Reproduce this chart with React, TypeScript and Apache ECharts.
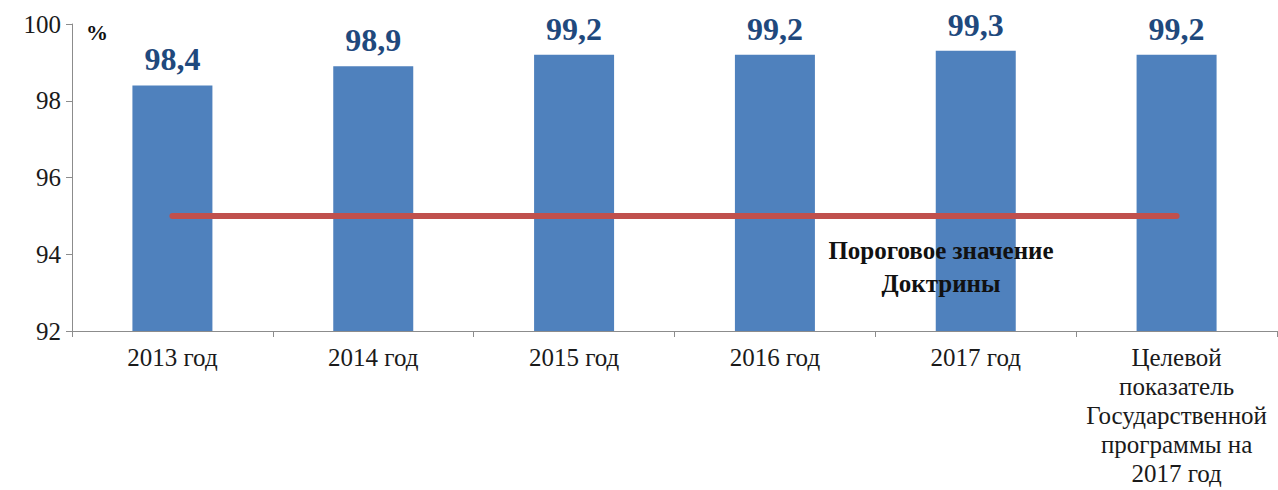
import React, { useEffect, useRef } from "react";
import * as echarts from "echarts";

const categories = [
  "2013 год",
  "2014 год",
  "2015 год",
  "2016 год",
  "2017 год",
  "Целевой\nпоказатель\nГосударственной\nпрограммы на\n2017 год",
];
const values = [98.4, 98.9, 99.2, 99.2, 99.3, 99.2];
const threshold = [95, 95, 95, 95, 95, 95];
const thresholdLabel = "Пороговое значение\nДоктрины";
const yMin = 92;
const yMax = 100;
const yInterval = 2;

const SERIF = "Liberation Serif";

export default function App() {
  const ref = useRef<HTMLDivElement>(null);
  useEffect(() => {
    if (!ref.current) return;
    const chart = echarts.init(ref.current, undefined, { renderer: "svg" });
    chart.setOption({
      animation: false,
      backgroundColor: "#ffffff",
      grid: { left: 72, right: 1, top: 24, bottom: 159 },
      xAxis: {
        type: "category",
        data: categories,
        boundaryGap: true,
        axisLine: { lineStyle: { color: "#8c8c8c", width: 1 } },
        axisTick: { show: true, alignWithLabel: false, length: 6, lineStyle: { color: "#8c8c8c" } },
        axisLabel: {
          interval: 0,
          margin: 12,
          fontFamily: SERIF,
          fontSize: 25,
          color: "#1a1a1a",
          lineHeight: 29,
        },
      },
      yAxis: {
        type: "value",
        min: yMin,
        max: yMax,
        interval: yInterval,
        axisLine: { show: true, lineStyle: { color: "#8c8c8c", width: 1 } },
        axisTick: { show: true, length: 6, lineStyle: { color: "#8c8c8c" } },
        splitLine: { show: false },
        axisLabel: {
          margin: 11,
          fontFamily: SERIF,
          fontSize: 25,
          color: "#1a1a1a",
        },
      },
      series: [
        {
          type: "bar",
          data: values,
          barWidth: 80,
          itemStyle: { color: "#4F81BD" },
          label: {
            show: true,
            position: "top",
            distance: 10,
            fontFamily: SERIF,
            fontWeight: "bold",
            fontSize: 32,
            color: "#1F497D",
            formatter: (p: any) => String(p.value).replace(".", ","),
          },
          z: 2,
        },
        {
          type: "line",
          data: threshold,
          symbol: "none",
          lineStyle: { color: "#C0504D", width: 6, cap: "round" },
          z: 3,
        },
      ],
      graphic: [
        {
          type: "text",
          x: 97,
          y: 32,
          z: 10,
          style: {
            text: "%",
            fontFamily: SERIF,
            fontWeight: "bold",
            fontSize: 22,
            fill: "#111",
            textAlign: "center",
            textVerticalAlign: "middle",
          },
        },
        {
          type: "text",
          x: 941,
          y: 234,
          z: 10,
          style: {
            text: thresholdLabel,
            fontFamily: SERIF,
            fontWeight: "bold",
            fontSize: 25,
            fill: "#111",
            textAlign: "center",
            lineHeight: 33,
          },
        },
      ],
    });
    return () => chart.dispose();
  }, []);
  return (
    <div
      ref={ref}
      style={{ position: "fixed", left: 0, top: 0, width: 1278, height: 490 }}
    />
  );
}
